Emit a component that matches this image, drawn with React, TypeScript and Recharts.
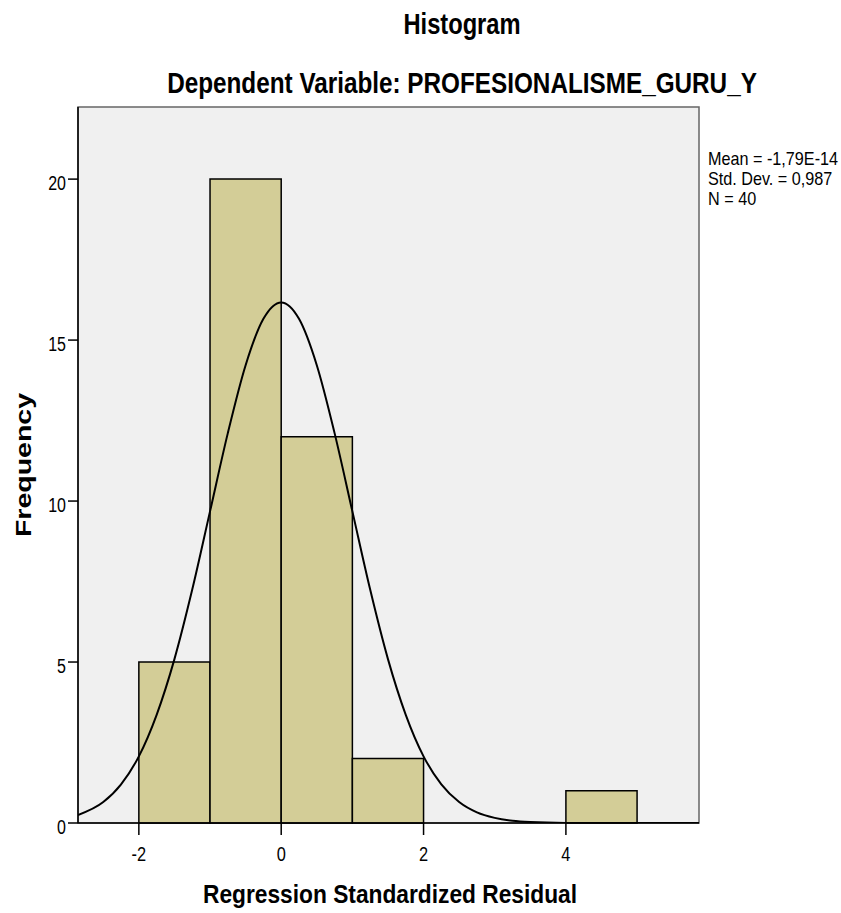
import React from 'react'
import {
  ComposedChart,
  Line,
  XAxis,
  YAxis,
  ReferenceArea,
} from 'recharts'

// Histogram bins (regression standardized residual)
const binStarts = [-2, -1, 0, 1, 4]
const binEnds = [-1, 0, 1, 2, 5]
const counts = [5, 20, 12, 2, 1]

// Normal curve
const curveX = [-2.855, -2.5, -2.25, -2, -1.75, -1.5, -1.25, -1, -0.75, -0.5, -0.25, 0, 0.25, 0.5, 0.75, 1, 1.25, 1.5, 1.75, 2, 2.25, 2.5, 2.75, 3, 3.25, 3.5, 4, 4.5, 5, 5.87]
const curveY = [0.25, 0.65, 1.2, 2.07, 3.36, 5.09, 7.25, 9.68, 12.11, 14.22, 15.66, 16.17, 15.66, 14.22, 12.11, 9.68, 7.25, 5.09, 3.36, 2.07, 1.2, 0.65, 0.33, 0.16, 0.07, 0.03, 0.003, 0, 0, 0]

const xTicks = [-2, 0, 2, 4]
const yTicks = [0, 5, 10, 15, 20]
const X_MIN = -2.855
const X_MAX = 5.87
const Y_MAX = 22.24

const statLines = ['Mean = -1,79E-14', 'Std. Dev. = 0,987', 'N = 40']

const FONT = '"Liberation Sans", Arial, sans-serif'
const BAR_FILL = '#d3cd97'

const curveData = curveX.map((x, i) => ({ x, y: curveY[i] }))

// SPSS output looks horizontally squeezed, so text gets a scaleX
function XTick({ x, y, payload }: any) {
  return (
    <text
      transform={`translate(${x},${y + 26}) scale(0.82,1)`}
      textAnchor="middle"
      fontSize={20}
      fontFamily={FONT}
      fill="#000"
    >
      {payload.value}
    </text>
  )
}

function YTick({ x, y, payload }: any) {
  return (
    <text
      transform={`translate(${x - 2},${y + 10.5}) scale(0.8,1)`}
      textAnchor="end"
      fontSize={20}
      fontFamily={FONT}
      fill="#000"
    >
      {payload.value}
    </text>
  )
}

export default function App() {
  return (
    <div style={{ position: 'absolute', left: 0, top: 0, width: 841, height: 913, background: '#fff' }}>
      <ComposedChart
        width={841}
        height={913}
        data={curveData}
        margin={{ top: 107, right: 142, bottom: 50, left: 28 }}
      >
        <XAxis
          type="number"
          dataKey="x"
          domain={[X_MIN, X_MAX]}
          ticks={xTicks}
          allowDataOverflow
          height={40}
          tickSize={12}
          tickMargin={0}
          stroke="#000"
          strokeWidth={1.5}
          tick={<XTick />}
        />
        <YAxis
          type="number"
          domain={[0, Y_MAX]}
          ticks={yTicks}
          allowDataOverflow
          width={50}
          tickSize={10}
          tickMargin={0}
          stroke="#000"
          strokeWidth={1.5}
          tick={<YTick />}
        />
        <ReferenceArea
          x1={X_MIN}
          x2={X_MAX}
          y1={0}
          y2={Y_MAX}
          fill="#f0f0f0"
          fillOpacity={1}
          stroke="#666"
          strokeWidth={1.5}
        />
        {counts.map((c, i) => (
          <ReferenceArea
            key={i}
            x1={binStarts[i]}
            x2={binEnds[i]}
            y1={0}
            y2={c}
            fill={BAR_FILL}
            fillOpacity={1}
            stroke="#000"
            strokeWidth={1.5}
          />
        ))}
        <Line
          type="monotone"
          dataKey="y"
          stroke="#000"
          strokeWidth={2}
          dot={false}
          isAnimationActive={false}
        />
      </ComposedChart>

      <svg
        width={841}
        height={913}
        style={{ position: 'absolute', left: 0, top: 0, pointerEvents: 'none' }}
        fontFamily={FONT}
      >
        <text transform="translate(462,34) scale(0.79,1)" textAnchor="middle" fontSize={30} fontWeight="bold">
          Histogram
        </text>
        <text transform="translate(462,93) scale(0.81,1)" textAnchor="middle" fontSize={30} fontWeight="bold">
          Dependent Variable: PROFESIONALISME_GURU_Y
        </text>
        {statLines.map((s, i) => (
          <text key={s} transform={`translate(708,${165 + i * 20}) scale(0.9,1)`} fontSize={18}>
            {s}
          </text>
        ))}
        <text transform="translate(390,903) scale(0.91,1)" textAnchor="middle" fontSize={25} fontWeight="bold">
          Regression Standardized Residual
        </text>
        <text transform="translate(31,465) rotate(-90) scale(1,0.8)" textAnchor="middle" fontSize={28.5} fontWeight="bold">
          Frequency
        </text>
      </svg>
    </div>
  )
}
